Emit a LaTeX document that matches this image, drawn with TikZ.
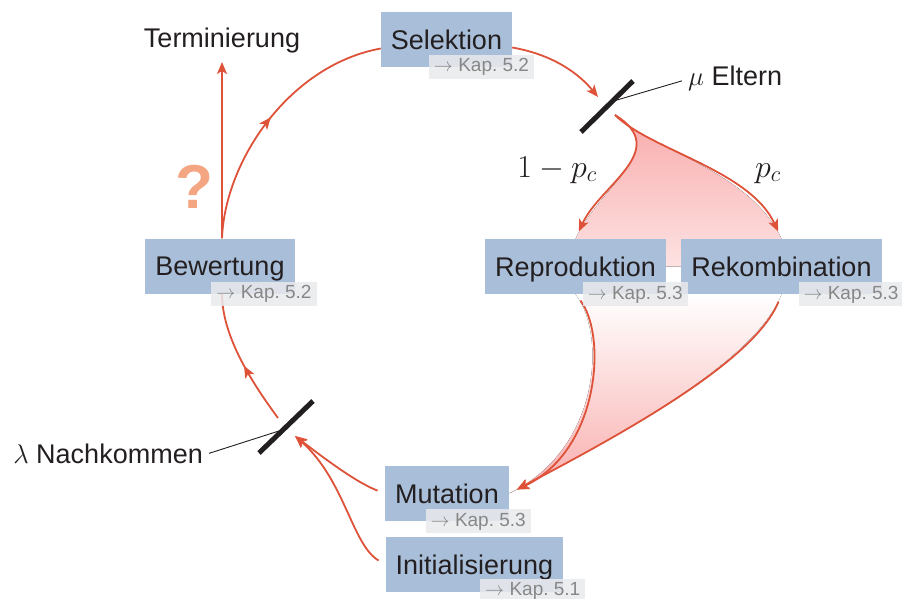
\documentclass[tikz,border=0pt]{standalone}
\usepackage[no-math]{fontspec}
\setmainfont{Liberation Sans}
\usetikzlibrary{arrows.meta,decorations.markings,backgrounds,calc}

% scalable Computer Modern math fonts for the large labels
\DeclareFontShape{OML}{cmm}{m}{it}{<-6>cmmi5 <6-7>cmmi6 <7-8>cmmi7 <8-9>cmmi8 <9-10>cmmi9 <10-12>cmmi10 <12->cmmi12}{}
\DeclareFontShape{OMS}{cmsy}{m}{n}{<-6>cmsy5 <6-7>cmsy6 <7-8>cmsy7 <8-9>cmsy8 <9-10>cmsy9 <10->cmsy10}{}
\DeclareFontShape{OT1}{cmr}{m}{n}{<-6>cmr5 <6-7>cmr6 <7-8>cmr7 <8-9>cmr8 <9-10>cmr9 <10-12>cmr10 <12-17>cmr12 <17->cmr17}{}
\DeclareFontShape{OMX}{cmex}{m}{n}{<->cmex10}{}

\definecolor{boxblue}{RGB}{169,191,217}
\definecolor{flowred}{RGB}{221,82,56}
\definecolor{inkdark}{RGB}{35,31,32}
\definecolor{kapgray}{RGB}{135,135,135}
\definecolor{kapbg}{RGB}{233,234,236}
\definecolor{qmark}{RGB}{244,165,130}
\definecolor{pinktop}{RGB}{249,172,172}
\definecolor{pinkmid}{RGB}{253,226,226}

\tikzset{
  stagebox/.style={fill=boxblue, text=inkdark, inner xsep=10pt, inner ysep=0pt,
    minimum height=55pt, text height=19.5pt, text depth=0pt,
    font=\fontsize{27}{32}\selectfont},
  kaplabel/.style={fill=kapbg, fill opacity=0.85, text opacity=1, text=kapgray,
    inner xsep=5pt, inner ysep=0pt, minimum height=24pt, text height=13.6pt,
    text depth=4pt, font=\fontsize{19}{22}\selectfont, anchor=east},
  freetext/.style={text=inkdark, inner sep=2pt, font=\fontsize{27}{32}\selectfont},
  mathtext/.style={text=inkdark, inner sep=2pt, font=\fontsize{32}{38}\selectfont},
  redline/.style={draw=flowred, line width=1.8pt},
  headarrow/.style={-{Stealth[length=12pt,width=10pt,inset=3pt]}},
  midarrow/.style={postaction={decorate}, decoration={markings,
    mark=at position #1 with {\arrow{Stealth[length=12pt,width=10pt,inset=3pt]}}}},
  gatebar/.style={draw=inkdark, line width=5pt},
  leader/.style={draw=inkdark, line width=0.9pt},
}

\newcommand\kapref[3]{\node[kaplabel] (#1) at ($(#2.south east)+(22,0)$) {$\rightarrow$ Kap.~#3};}

\begin{document}
\begin{tikzpicture}[x=1pt, y=-1pt]
\useasboundingbox (0,0) rectangle (902,599);

% stages of the evolutionary loop
\node[stagebox] (sel) at (446.5,39.5) {Selektion};
\node[stagebox] (bew) at (220,266) {Bewertung};
\node[stagebox] (rep) at (575.5,266.5) {Reproduktion};
\node[stagebox] (rek) at (781.5,266.5) {Rekombination};
\node[stagebox] (mut) at (447,493.5) {Mutation};
\node[stagebox] (ini) at (474.5,564.5) {Initialisierung};

% chapter references
\kapref{kapsel}{sel}{5.2}
\kapref{kapbew}{bew}{5.2}
\kapref{kaprep}{rep}{5.3}
\kapref{kaprek}{rek}{5.3}
\kapref{kapmut}{mut}{5.3}
\node[kaplabel] (kapini) at ($(ini.south east)+(22,-1.5)$) {$\rightarrow$ Kap.~5.1};

% free labels
\node[freetext] (term) at (222,41) {Terminierung};
\node[text=qmark, inner sep=0pt, font=\fontsize{62}{70}\selectfont\bfseries] (qm) at (194,187) {?};
\node[freetext, anchor=base west] (eltern) at (686,86) {$\mu$ Eltern};
\node[freetext, anchor=base east] (nach) at (205,463) {$\lambda$ Nachkommen};
\node[mathtext, anchor=base] (pnot) at (557,177) {$1-p_c$};
\node[mathtext, anchor=base] (pyes) at (768,177) {$p_c$};

% the two gates (parents / offspring)
\coordinate (g1a) at (581,132);
\coordinate (g1b) at (633,81);
\coordinate (g1in) at (598,97);
\coordinate (g1out) at (615,115);
\coordinate (g2a) at (259,453);
\coordinate (g2b) at (313,401);
\coordinate (g2in) at (295,436);
\coordinate (g2out) at (278,418);
\coordinate (termfoot) at (222,55.5);

\begin{scope}[on background layer]
  % shaded flow through the variation operators
  \fill[top color=pinktop, bottom color=pinkmid]
    (g1out) .. controls (672,150) and (600,185) .. (rep.north)
    -- (rep.center) -- (rek.center) -- (rek.north)
    .. controls (750,170) and (650,150) .. (g1out) -- cycle;
  \fill[top color=white, bottom color=pinktop]
    (rep.south) .. controls (607,335) and (600,450) .. (mut.east)
    .. controls (630,430) and (755,360) .. (rek.south) -- cycle;

  % split after selection
  \draw[redline, headarrow, shorten >=8pt]
    (g1out) .. controls (672,150) and (600,185) .. (rep.north);
  \draw[redline, headarrow, shorten >=8pt]
    (g1out) .. controls (650,150) and (750,170) .. (rek.north);

  % merge into mutation
  \draw[redline, headarrow, shorten <=8pt, shorten >=9pt]
    (rep.south) .. controls (607,335) and (600,450) .. (mut.east);
  \draw[redline, headarrow, shorten <=8pt, shorten >=9pt]
    (rek.south) .. controls (755,360) and (630,430) .. (mut.east);

  % main loop
  \draw[redline, headarrow]
    ($(sel.east)+(0,8)$) .. controls (555,55) and (580,75) .. (g1in);
  \draw[redline, midarrow=0.5]
    ($(bew.north)+(2,0)$) .. controls (225,160) and (290,65) .. ($(sel.west)+(0,9)$);
  \draw[redline, midarrow=0.45]
    (g2out) .. controls (250,380) and (222,335) .. ($(bew.south)+(2,0)$);
  \draw[redline, headarrow, shorten <=8pt]
    (mut.west) .. controls (355,482) and (320,455) .. (g2in);
  \draw[redline, headarrow, shorten <=8pt]
    (ini.west) .. controls (352,545) and (345,480) .. (g2in);

  % exit of the loop
  \draw[redline, headarrow, shorten >=6.5pt] ($(bew.north)+(2,0)$) -- (termfoot);
\end{scope}

% gates and their labels
\draw[gatebar] (g1a) -- (g1b);
\draw[gatebar] (g2a) -- (g2b);
\draw[leader] ($(g1a)!0.6!(g1b)$) -- ($(eltern.west)+(-4,2)$);
\draw[leader] ($(g2a)!0.45!(g2b)$) -- ($(nach.east)+(4,0)$);

\end{tikzpicture}
\end{document}
